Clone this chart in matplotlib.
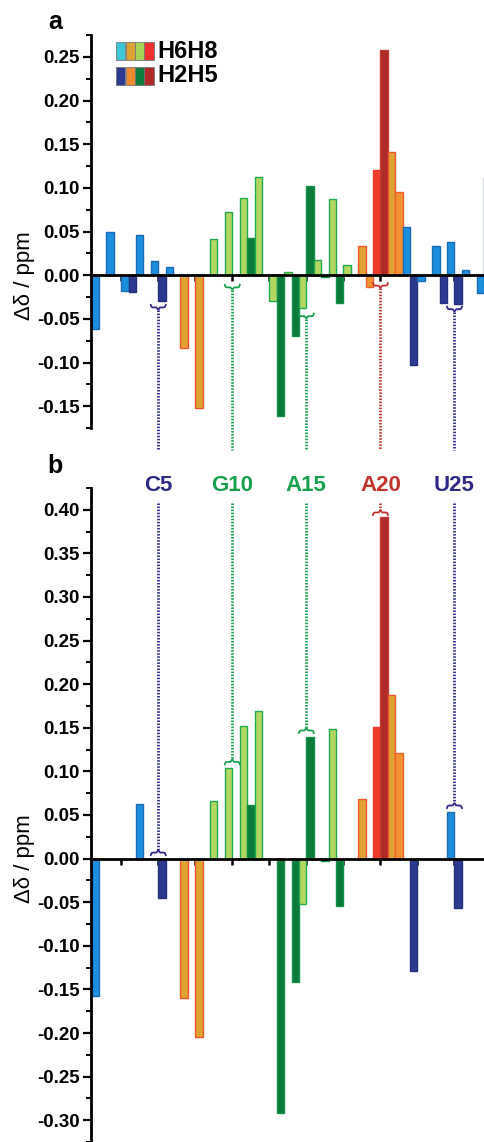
import numpy as np
import matplotlib
matplotlib.use('Agg')
import matplotlib.pyplot as plt
from matplotlib.patches import Rectangle

plt.rcParams['font.family'] = ['Liberation Sans', 'DejaVu Sans']
plt.rcParams['axes.unicode_minus'] = False

nan = np.nan

# residue numbers and colour group of each residue
residues = np.arange(1, 28)
groups = ['C'] * 6 + ['U'] * 2 + ['G'] * 10 + ['U', 'A', 'U'] + ['C'] * 6

# panel a: chemical shift differences (ppm)
a_h6h8 = [-0.062, 0.049, -0.018, 0.046, 0.016, 0.010, -0.083, -0.152, 0.042, 0.073,
          0.088, 0.113, -0.030, 0.004, -0.038, 0.018, 0.087, 0.012, 0.034, 0.120,
          0.141, 0.055, -0.007, 0.034, 0.038, 0.006, -0.020]
a_h2h5 = [nan, nan, -0.019, nan, -0.030, nan, nan, nan, nan, nan,
          0.043, nan, -0.161, -0.070, 0.102, -0.002, -0.032, nan, -0.014, 0.258,
          0.095, -0.103, nan, -0.032, -0.033, nan, 0.113]

# panel b
b_h6h8 = [-0.157, nan, nan, 0.063, nan, nan, -0.160, -0.205, 0.066, 0.104,
          0.152, 0.169, nan, nan, -0.052, nan, 0.149, nan, 0.068, 0.151,
          0.188, nan, nan, nan, 0.054, nan, nan]
b_h2h5 = [nan, nan, nan, nan, -0.045, nan, nan, nan, nan, nan,
          0.061, nan, -0.292, -0.141, 0.140, -0.003, -0.054, nan, nan, 0.392,
          0.121, -0.129, nan, nan, -0.057, nan, nan]

# labelled residues
mark_res = [5, 10, 15, 20, 25]
mark_names = ['C5', 'G10', 'A15', 'A20', 'U25']
mark_colors = ['#2e2a86', '#17a04e', '#17a04e', '#c3342c', '#2e2a86']
brace_a = [-0.034, -0.011, -0.044, -0.009, -0.036]   # brace below the bar
brace_b = [0.004, 0.108, 0.144, 0.394, 0.058]       # brace above the bar

# (fill, edge) per group
h6_style = {'C': ('#1c8ede', '#1a6cb6'), 'U': ('#e0a232', '#f0552e'),
            'G': ('#b2d862', '#21aa4f'), 'A': ('#ee3b2b', '#ee3b2b')}
h2_style = {'C': ('#2b3990', '#24307c'), 'U': ('#f39233', '#f0602e'),
            'G': ('#0b7b3b', '#129048'), 'A': ('#b02a2a', '#c23a30')}

legend_top = ['#3ec6d6', '#dca232', '#a8d456', '#ee3030']
legend_bot = ['#2b3990', '#f28a30', '#0d7e40', '#b02a2a']

W, H = 485, 1142
fig = plt.figure(figsize=(W / 100, H / 100), dpi=100)
ax_a = fig.add_axes([91 / W, 1 - 428 / H, 1 - 91 / W, (428 - 35) / H])
ax_b = fig.add_axes([91 / W, 0.0, 1 - 91 / W, (H - 488) / H])

px_x = 14.85  # pixels per residue


def draw_bars(ax, h6, h2):
    for i, r in enumerate(residues):
        g = groups[i]
        if not np.isnan(h6[i]):
            ax.bar(r - 0.25, h6[i], width=0.5, color=h6_style[g][0],
                   edgecolor=h6_style[g][1], linewidth=1.0, zorder=2)
        if not np.isnan(h2[i]):
            ax.bar(r + 0.25, h2[i], width=0.5, color=h2_style[g][0],
                   edgecolor=h2_style[g][1], linewidth=1.0, zorder=2)


def brace(ax, xc, y, ppu, up, color):
    xs = np.array([-7.5, -6.8, -5.5, -1.8, 0, 1.8, 5.5, 6.8, 7.5]) / px_x
    ys = np.array([0, -2.0, -2.6, -2.6, -5, -2.6, -2.6, -2.0, 0]) / ppu
    if up:
        ys = -ys
    ax.plot(xc + xs, y + ys, color=color, lw=1.3, zorder=3, clip_on=False)
    return y + ys[4]


def style_axis(ax, ylim, ymaj):
    ax.set_xlim(0.46, 27.06)
    ax.set_ylim(*ylim)
    ax.spines['top'].set_visible(False)
    ax.spines['right'].set_visible(False)
    ax.spines['bottom'].set_position(('data', 0))
    ax.spines['left'].set_linewidth(2)
    ax.spines['bottom'].set_linewidth(2)
    ax.spines['bottom'].set_zorder(4)
    ax.set_xticks(np.arange(2.5, 27, 2.5))
    ax.set_xticklabels([])
    ax.tick_params(axis='x', direction='out', length=4, width=1.8)
    ax.set_yticks(ymaj)
    ax.set_yticks(np.arange(ymaj[0] - 0.025, ymaj[-1] + 0.03, 0.05), minor=True)
    ax.set_yticklabels(['%.2f' % v for v in ymaj], fontweight='bold')
    ax.tick_params(axis='y', which='major', direction='out', length=6, width=1.6,
                   labelsize=13.5, pad=2)
    ax.tick_params(axis='y', which='minor', direction='out', length=3.5, width=1.4)
    ax.patch.set_alpha(0)
    ax.text(-0.17, 0.0, '\u0394\u03b4 / ppm', transform=ax.get_yaxis_transform(),
            rotation=90, ha='center', va='center', fontsize=16)


ticks_a = [-0.15, -0.10, -0.05, 0.0, 0.05, 0.10, 0.15, 0.20, 0.25]
ticks_b = [-0.30, -0.25, -0.20, -0.15, -0.10, -0.05, 0.0, 0.05, 0.10, 0.15,
           0.20, 0.25, 0.30, 0.35, 0.40]

# panel a
draw_bars(ax_a, a_h6h8, a_h2h5)
style_axis(ax_a, (-0.1644, 0.2752), ticks_a)
for r, c, yb in zip(mark_res, mark_colors, brace_a):
    tip = brace(ax_a, r, yb, 894, False, c)
    ax_a.plot([r, r], [tip, -0.200], color=c, lw=2.0, ls=(0, (0.55, 0.55)),
              clip_on=False, zorder=3)

# panel b
draw_bars(ax_b, b_h6h8, b_h2h5)
style_axis(ax_b, (-0.320, 0.413), ticks_b)
for r, c, yb, name in zip(mark_res, mark_colors, brace_b, mark_names):
    tip = brace(ax_b, r, yb, 891.7, True, c)
    ax_b.plot([r, r], [0.408, tip], color=c, lw=2.0, ls=(0, (0.55, 0.55)),
              clip_on=False, zorder=3)
    ax_b.text(r, 0.428, name, color=c, ha='center', va='center', fontsize=16,
              fontweight='bold', clip_on=False)

# panel letters
fig.text(55 / W, 1 - 22 / H, 'a', ha='center', va='center', fontsize=18, fontweight='bold')
fig.text(55 / W, 1 - 466 / H, 'b', ha='center', va='center', fontsize=18, fontweight='bold')

# legend swatches
for cols, name, y0 in [(legend_top, 'H6H8', 42), (legend_bot, 'H2H5', 67)]:
    for k, col in enumerate(cols):
        fig.add_artist(Rectangle(((116 + k * 9.5) / W, 1 - (y0 + 18) / H), 9.5 / W, 18 / H,
                                 transform=fig.transFigure, facecolor=col,
                                 edgecolor='#777777', linewidth=0.6))
    fig.text(157 / W, 1 - (y0 + 9) / H, name, ha='left', va='center',
             fontsize=17, fontweight='bold')

fig.savefig('out.png', dpi=100)
